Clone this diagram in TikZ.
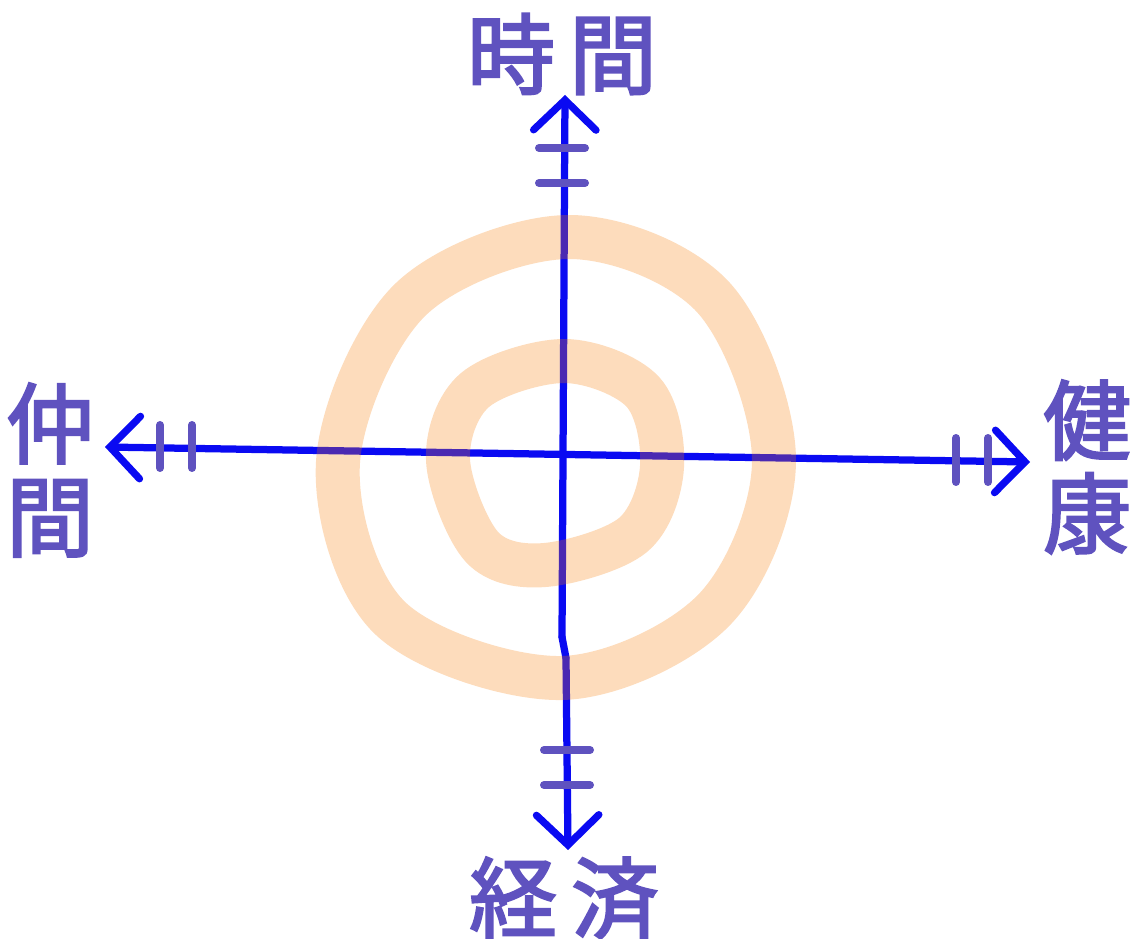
\documentclass[tikz,border=0pt]{standalone}
\usepackage{fontspec}
\newfontfamily\cjk[FakeBold=2.5]{Noto Sans CJK JP}
\usepackage{tikz}
\usetikzlibrary{arrows.meta}
\definecolor{axisblue}{HTML}{0A0AF2}
\definecolor{inkviolet}{HTML}{5F52BF}
\definecolor{tangerine}{RGB}{247,126,7}
\tikzset{ring/.style={draw=tangerine,draw opacity=0.27,line width=0.88cm,line join=round}, axis/.style={draw=axisblue,line width=0.145cm,line cap=round,line join=round,>={Straight Barb[length=6mm,width=12.5mm,line cap=round]}}, tickmark/.style={draw=inkviolet,line width=0.16cm,line cap=round}, word/.style={text=inkviolet,font=\cjk\fontsize{50}{53}\selectfont,inner sep=0pt,align=center}}

\begin{document}
\begin{tikzpicture}[x=0.02cm,y=-0.02cm]
\useasboundingbox (0,0) rectangle (1130,939);
% axis ends
\coordinate (top) at (565,95);
\coordinate (bottom) at (568,850);
\coordinate (left) at (105,447);
\coordinate (right) at (1030,462);
\coordinate (bendA) at (562,637);
\coordinate (bendB) at (566,658);
\draw[axis,<->] (left) -- (right);
\draw[axis,->] (bendA) -- (top);
\draw[axis,->] (bendB) -- (bottom);
\draw[axis] (bendA) -- (bendB);
% ticks
\foreach \y in {148,183} \draw[tickmark] (539,\y) -- (585,\y);
\foreach \y in {750,785} \draw[tickmark] (544,\y) -- (590,\y);
\foreach \x in {160,192} \draw[tickmark] (\x,425) -- (\x,468);
\foreach \x in {956,988} \draw[tickmark] (\x,438) -- (\x,482);
% rings, see-through over the axes
\draw[ring] plot[smooth cycle,tension=0.56] coordinates {(774,460) (713,297) (568,237) (410,300) (338,462) (390,618) (562,678) (714,610)};
\draw[ring] plot[smooth cycle,tension=0.56] coordinates {(662,467) (643,392) (565,361) (475,390) (448,460) (482,547) (545,565) (633,535)};
% labels
\node[word] (jikan) at (562,54) {時\hspace{8pt}間};
\node[word] (keizai) at (564,898) {経\hspace{8pt}済};
\node[word] (nakama) at (50,470) {仲\\間};
\node[word] (kenko) at (1087,467) {健\\康};
\end{tikzpicture}
\end{document}
